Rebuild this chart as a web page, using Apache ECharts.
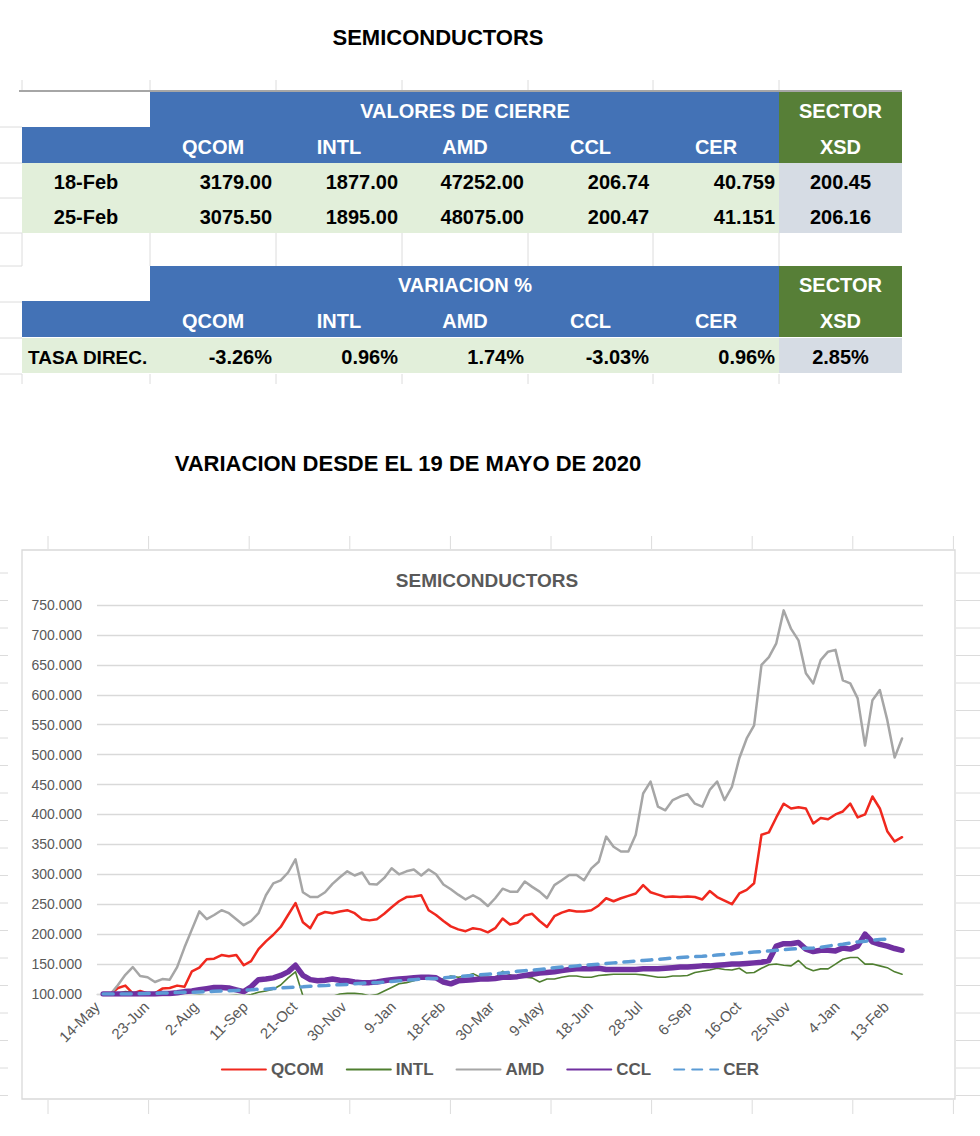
<!DOCTYPE html>
<html>
<head>
<meta charset="utf-8">
<script src="https://cdn.jsdelivr.net/npm/echarts@6.0.0/dist/echarts.min.js"></script>
<style>
  html, body { margin: 0; padding: 0; background: #fff; }
  #main { width: 980px; height: 1136px; }
</style>
</head>
<body>
<div id="main"></div>
<script>
// --- table data ---
var tickers = ['QCOM', 'INTL', 'AMD', 'CCL', 'CER'];
var closeDates = ['18-Feb', '25-Feb'];
var close18Feb = ['3179.00', '1877.00', '47252.00', '206.74', '40.759'];
var close25Feb = ['3075.50', '1895.00', '48075.00', '200.47', '41.151'];
var xsdClose = ['200.45', '206.16'];
var variation = ['-3.26%', '0.96%', '1.74%', '-3.03%', '0.96%'];
var xsdVariation = '2.85%';

// --- chart data (base 100 = 19 May 2020), one reading every 6 days ---
var tickLabels = ['14-May', '23-Jun', '2-Aug', '11-Sep', '21-Oct', '30-Nov', '9-Jan', '18-Feb', '30-Mar',
  '9-May', '18-Jun', '28-Jul', '6-Sep', '16-Oct', '25-Nov', '4-Jan', '13-Feb'];
var firstDay = 5, dayStep = 6;   // days after 14-May-2020

var qcom = [100, 100, 110, 114, 101, 105, 101, 101, 109, 110, 114, 112, 138, 144, 158, 159, 165, 163, 165, 148,
  155, 175, 188, 199, 212, 232, 252, 220, 210, 232, 237, 235, 238, 240, 235, 225, 223, 225, 234, 245,
  255, 262, 263, 265, 240, 232, 222, 213, 208, 205, 210, 208, 203, 210, 226, 216, 219, 231, 234, 222,
  212, 230, 236, 240, 238, 238, 240, 248, 260, 255, 260, 264, 268, 282, 270, 266, 262, 263, 262, 263,
  262, 258, 272, 262, 256, 250, 268, 274, 285, 366, 370, 395, 418, 410, 412, 410, 385, 394, 392, 400,
  405, 418, 395, 400, 430, 410, 372, 355, 362];
var intl = [100, 100, 101, 104, 103, 99, 97, 97, 96, 96, 96, 96, 97, 98, 97, 97, 96, 97, 98, 97,
  99, 103, 105, 108, 115, 127, 137, 97, 94, 94, 95, 96, 100, 101, 101, 100, 97, 99, 105, 111,
  117, 119, 122, 128, 125, 125, 125, 130, 128, 130, 134, 128, 128, 127, 138, 132, 128, 128, 127, 120,
  125, 125, 128, 130, 130, 128, 128, 131, 132, 133, 133, 133, 133, 132, 130, 128, 128, 130, 130, 131,
  136, 138, 140, 143, 141, 140, 143, 135, 136, 143, 149, 150, 148, 147, 156, 144, 139, 142, 142, 150,
  158, 161, 161, 150, 150, 147, 144, 137, 133];
var amd = [100, 100, 115, 132, 145, 130, 128, 120, 125, 124, 145, 178, 208, 238, 225, 232, 240, 235, 225, 215,
  222, 235, 265, 285, 290, 303, 325, 270, 262, 262, 270, 284, 295, 305, 298, 303, 284, 283, 294, 310,
  300, 305, 308, 298, 308, 300, 283, 275, 266, 258, 265, 258, 247, 260, 276, 271, 271, 288, 279, 271,
  260, 282, 290, 299, 299, 290, 310, 321, 363, 346, 338, 338, 366, 435, 455, 413, 407, 424, 430, 434,
  418, 413, 441, 455, 424, 446, 494, 527, 549, 650, 663, 686, 741, 710, 691, 636, 619, 658, 672, 675,
  624, 619, 594, 515, 591, 608, 558, 495, 527];
var ccl = [100, 100, 100, 100, 100, 100, 100, 100, 101, 101, 102, 104, 105, 107, 109, 111, 111, 110, 107, 104,
  112, 124, 125, 127, 131, 137, 148, 131, 124, 122, 123, 125, 123, 122, 120, 119, 119, 120, 122, 124,
  125, 126, 127, 128, 128, 127, 120, 117, 122, 123, 124, 125, 125, 126, 128, 128, 129, 131, 133, 135,
  136, 137, 139, 141, 142, 142, 142, 143, 141, 141, 141, 141, 141, 142, 142, 142, 143, 144, 145, 145,
  146, 147, 147, 148, 149, 150, 150, 151, 152, 153, 156, 180, 184, 184, 186, 175, 171, 173, 173, 172,
  177, 175, 180, 200, 187, 183, 180, 176, 173];
var cer = [100, 100, 100, 100, 100, 100.5, 101, 101, 101.5, 102, 102.5, 103, 103, 103.5, 104, 104.5, 105, 105.5, 106, 106.5,
  107, 108, 108, 109, 110, 111, 111.5, 112, 113, 113.5, 114, 115, 115.5, 116, 117, 118, 118.5, 119, 120, 121,
  122, 123, 124, 125, 126, 126, 127, 128, 129, 130, 131, 132, 133, 134, 135, 136, 138, 139, 140, 141,
  142, 144, 145, 146, 147, 148, 149, 150, 151, 152, 153, 154, 155, 156, 157, 158, 159, 160, 161, 162,
  162.5, 163, 164, 165, 166, 167, 168, 169, 170, 171, 172, 173, 174, 175, 176, 176.5, 177, 178, 180, 182,
  183, 185, 187, 188, 190, 191, 192, null, null];

function toPoints(vals) {
  return vals.map(function (v, i) { return [firstDay + dayStep * i, v]; });
}

var FONT = '"Liberation Sans", Arial, sans-serif';
var BLUE = '#4372b6', GREEN = '#577f37', LIGHT = '#e2efda', GREY = '#d6dce4', SHEET = '#dcdcdc';

// table layout
var colX = [22, 150, 276, 402, 528, 653, 779, 902];
var graphics = [];

function rect(x, y, w, h, fill) {
  graphics.push({ type: 'rect', shape: { x: x, y: y, width: w, height: h }, style: { fill: fill }, silent: true });
}
function line(x1, y1, x2, y2, color, w) {
  graphics.push({ type: 'line', shape: { x1: x1, y1: y1, x2: x2, y2: y2 }, style: { stroke: color, lineWidth: w || 1 }, silent: true });
}
function text(t, x, y, align, color, size, weight) {
  graphics.push({
    type: 'text', silent: true,
    style: { text: t, x: x, y: y, align: align, verticalAlign: 'middle', fill: color,
      fontSize: size, fontWeight: weight || 'bold', fontFamily: FONT }
  });
}
function colCenter(c) { return (colX[c] + colX[c + 1]) / 2; }

// spreadsheet grid remnants
colX.slice(0, 7).forEach(function (x) {
  line(x, 80, x, 91, SHEET); line(x, 233, x, 266, SHEET); line(x, 374, x, 384, SHEET);
});
[127, 163, 198, 233, 266, 302, 338, 374].forEach(function (y) { line(0, y, 22, y, SHEET); });
for (var gx = 48; gx < 960; gx += 100.6) {
  line(gx, 536, gx, 549, SHEET); line(gx, 1100, gx, 1114, SHEET);
}
for (var gy = 573; gy < 1100; gy += 27.5) {
  line(0, gy, 8, gy, SHEET); line(956, gy, 980, gy, SHEET);
}
line(19, 91, 902, 91, '#a6a6a6', 2);

// titles
text('SEMICONDUCTORS', 438, 37, 'center', '#000', 22);
text('VARIACION DESDE EL 19 DE MAYO DE 2020', 408, 463, 'center', '#000', 22);

function headerBlock(top, title) {
  rect(colX[1], top, colX[6] - colX[1], 36, BLUE);
  rect(colX[0], top + 35, colX[6] - colX[0], 36, BLUE);
  rect(colX[6], top, colX[7] - colX[6], 71, GREEN);
  text(title, colCenter(3), top + 19, 'center', '#fff', 20);
  text('SECTOR', colCenter(6), top + 19, 'center', '#fff', 20);
  tickers.forEach(function (t, i) { text(t, colCenter(i + 1), top + 55, 'center', '#fff', 20); });
  text('XSD', colCenter(6), top + 55, 'center', '#fff', 20);
}
function dataRow(top, label, vals, sector, labelAlign) {
  rect(colX[0], top, colX[6] - colX[0], 35, LIGHT);
  rect(colX[6], top, colX[7] - colX[6], 35, GREY);
  if (labelAlign === 'left') text(label, 28, top + 19, 'left', '#000', 19);
  else text(label, colCenter(0), top + 19, 'center', '#000', 20);
  vals.forEach(function (v, i) { text(v, colX[i + 2] - 4, top + 19, 'right', '#000', 20); });
  text(sector, colCenter(6), top + 19, 'center', '#000', 20);
}

headerBlock(92, 'VALORES DE CIERRE');
dataRow(163, closeDates[0], close18Feb, xsdClose[0]);
dataRow(198, closeDates[1], close25Feb, xsdClose[1]);
headerBlock(266, 'VARIACION %');
dataRow(338, 'TASA DIREC.', variation, xsdVariation, 'left');

// chart frame and title
graphics.push({ type: 'rect', shape: { x: 22, y: 550, width: 933, height: 549 },
  style: { fill: 'none', stroke: '#d9d9d9', lineWidth: 1.3 }, silent: true });
text('SEMICONDUCTORS', 487, 580, 'center', '#595959', 19);

var chart = echarts.init(document.getElementById('main'), null, { renderer: 'svg', width: 980, height: 1136 });

function lineSeries(name, vals, color, width, dash) {
  return {
    name: name, type: 'line', data: toPoints(vals), symbol: 'none', showSymbol: false,
    connectNulls: false, clip: true, animation: false,
    lineStyle: { color: color, width: width, type: dash || 'solid', cap: 'round', join: 'round' },
    itemStyle: { color: color }
  };
}

var option = {
  animation: false,
  backgroundColor: '#fff',
  graphic: graphics,
  grid: { left: 97, right: 57, top: 605, bottom: 142 },
  legend: {
    data: tickers, left: 'center', top: 1056, itemWidth: 44, itemHeight: 16, itemGap: 22,
    itemStyle: { opacity: 0 },
    textStyle: { color: '#595959', fontSize: 17, fontWeight: 'bold', fontFamily: FONT }
  },
  xAxis: {
    type: 'value', min: 0, max: 670, interval: 40,
    axisLine: { show: true, lineStyle: { color: '#d9d9d9', width: 1.3 } },
    axisTick: { show: false },
    splitLine: { show: false },
    axisLabel: {
      rotate: 45, margin: 10, color: '#595959', fontSize: 15, fontFamily: FONT,
      showMaxLabel: false,
      formatter: function (v) { return tickLabels[v / 40] || ''; }
    }
  },
  yAxis: {
    type: 'value', min: 100, max: 750, interval: 50,
    axisLine: { show: false }, axisTick: { show: false },
    splitLine: { lineStyle: { color: '#d9d9d9', width: 1.3 } },
    axisLabel: {
      margin: 15, color: '#595959', fontSize: 14, fontFamily: FONT,
      formatter: function (v) { return v.toFixed(3); }
    }
  },
  series: [
    lineSeries('QCOM', qcom, '#f0281e', 2.5),
    lineSeries('INTL', intl, '#4f7f30', 1.6),
    lineSeries('AMD', amd, '#a6a6a6', 2.5),
    lineSeries('CCL', ccl, '#7030a0', 5.5),
    lineSeries('CER', cer, '#5b9bd5', 3.5, [10, 8])
  ]
};

chart.setOption(option);
</script>
</body>
</html>
